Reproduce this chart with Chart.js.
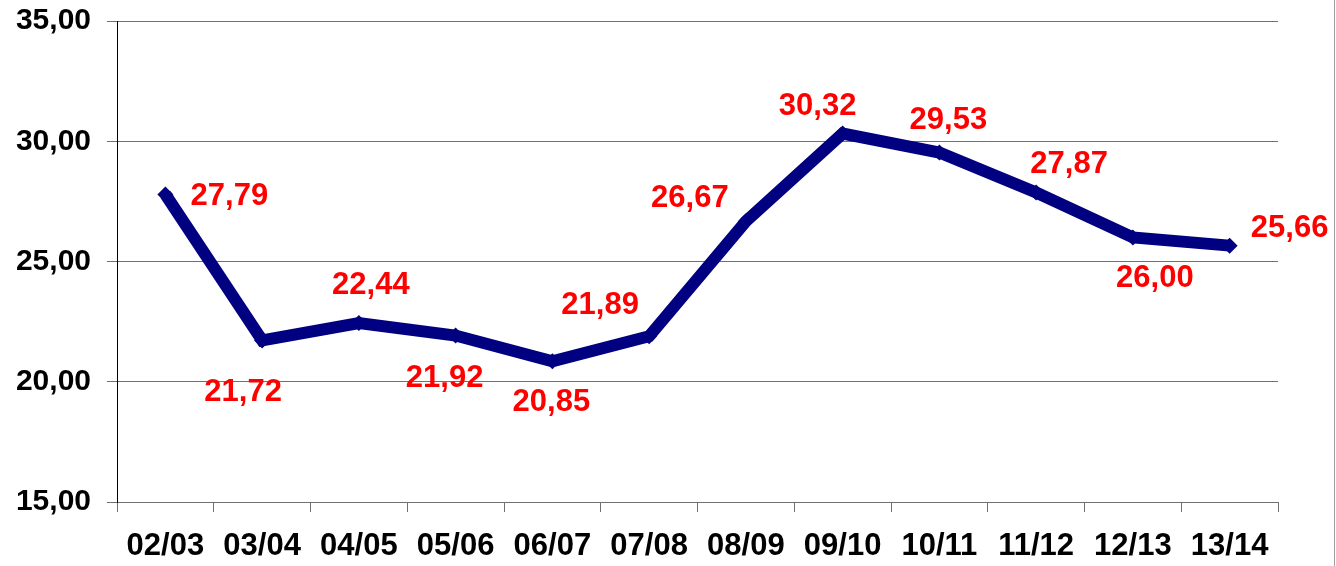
<!DOCTYPE html>
<html>
<head>
<meta charset="utf-8">
<script src="https://cdn.jsdelivr.net/npm/chart.js@4/dist/chart.umd.min.js"></script>
<style>
  html, body { margin: 0; padding: 0; background: #fff; }
  canvas { display: block; }
</style>
</head>
<body>
<canvas id="chart" width="1336" height="566"></canvas>
<script>
// Data
const seasons = ['02/03', '03/04', '04/05', '05/06', '06/07', '07/08', '08/09', '09/10', '10/11', '11/12', '12/13', '13/14'];
const values = [27.79, 21.72, 22.44, 21.92, 20.85, 21.89, 26.67, 30.32, 29.53, 27.87, 26.00, 25.66];
const yTicks = [15, 20, 25, 30, 35];

const fmt = v => v.toFixed(2).replace('.', ',');

// label nudges (px) relative to each point, so labels sit like in the original
const labelNudge = [
  [64, 0], [-19, 50], [12, -40], [-11, 40], [-1, 39], [-49, -33],
  [-56, -25], [-25, -30], [9, -35], [33, -30], [22, 39], [60, -20]
];

const valueLabels = {
  id: 'valueLabels',
  afterDatasetsDraw(chart) {
    const { ctx } = chart;
    const meta = chart.getDatasetMeta(0);
    ctx.save();
    ctx.font = 'bold 31px "Liberation Sans", Arial, sans-serif';
    ctx.fillStyle = '#ff0000';
    ctx.textAlign = 'center';
    ctx.textBaseline = 'alphabetic';
    meta.data.forEach((pt, i) => {
      const n = labelNudge[i];
      ctx.fillText(fmt(values[i]), pt.x + n[0], pt.y + n[1] + 11);
    });
    ctx.restore();
  }
};

const frameLine = {
  id: 'frameLine',
  afterDraw(chart) {
    const { ctx, width, height } = chart;
    ctx.save();
    ctx.strokeStyle = '#a0a0a0';
    ctx.lineWidth = 1;
    ctx.beginPath();
    ctx.moveTo(width - 1.5, 0);
    ctx.lineTo(width - 1.5, height);
    ctx.stroke();
    ctx.restore();
  }
};

new Chart(document.getElementById('chart').getContext('2d'), {
  type: 'line',
  data: {
    labels: seasons,
    datasets: [{
      data: values,
      borderColor: '#000080',
      backgroundColor: '#000080',
      borderWidth: 12,
      pointStyle: 'rectRot',
      pointRadius: 8,
      pointBorderWidth: 0,
      tension: 0,
      fill: false
    }]
  },
  options: {
    responsive: false,
    animation: false,
    layout: { padding: { top: 21, right: 58, left: 0, bottom: 0 } },
    plugins: {
      legend: { display: false },
      tooltip: { enabled: false }
    },
    scales: {
      x: {
        offset: true,
        grid: { offset: true, drawOnChartArea: false, drawTicks: true, tickLength: 10, color: '#707070' },
        border: { color: '#707070', width: 1 },
        ticks: {
          color: '#000',
          padding: 16,
          maxRotation: 0,
          autoSkip: false,
          font: { family: '"Liberation Sans", Arial, sans-serif', size: 31, weight: 'bold' }
        },
        afterFit: s => { s.height = 64; s.paddingLeft = 0; s.paddingRight = 0; }
      },
      y: {
        min: 15,
        max: 35,
        afterBuildTicks: s => { s.ticks = yTicks.map(v => ({ value: v })); },
        grid: { color: '#707070', tickLength: 10 },
        border: { color: '#000', width: 1 },
        ticks: {
          color: '#000',
          padding: 16,
          callback: v => fmt(v),
          font: { family: '"Liberation Sans", Arial, sans-serif', size: 30, weight: 'bold' }
        },
        afterFit: s => { s.width = 117; s.paddingTop = 0; s.paddingBottom = 0; }
      }
    }
  },
  plugins: [valueLabels, frameLine]
});
</script>
</body>
</html>
